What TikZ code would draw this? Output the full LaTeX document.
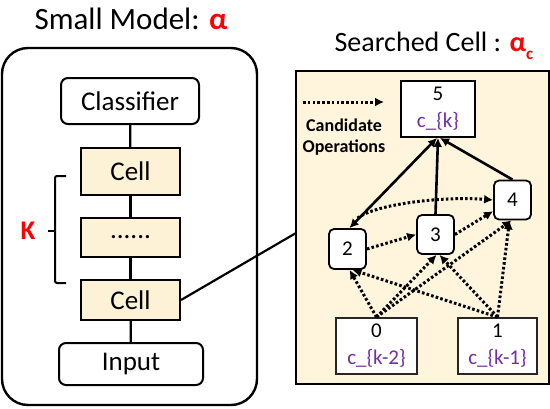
\documentclass[tikz,border=0pt]{standalone}
\usepackage{fontspec}
\setmainfont{Carlito}
\usetikzlibrary{arrows.meta,calc}
\definecolor{cream}{HTML}{FFF4DC}
\definecolor{cellfill}{HTML}{FDF2D5}
\definecolor{purp}{HTML}{7030A0}
\tikzset{
  fsz/.style={font=\fontsize{#1}{#1}\selectfont},
  blk/.style={draw=black, line width=2pt, inner sep=0pt, fsz=27},
  roundblk/.style={blk, rounded corners=7pt, fill=white},
  cellblk/.style={blk, fill=cellfill, minimum width=99pt},
  small/.style={draw=black, line width=1.8pt, fill=white, rounded corners=5pt, inner sep=0pt, minimum width=37pt, minimum height=39pt, fsz=21},
  io/.style={draw=black!85, line width=1.8pt, fill=white, inner sep=0pt, align=center, font=\fontsize{21}{27}\selectfont},
  solidarr/.style={line width=2.6pt, -{Latex[length=9pt,width=9pt]}},
  dotarr/.style={line width=3pt, dash pattern=on 2.6pt off 2.2pt, -{Latex[length=9pt,width=9pt]}},
  link/.style={line width=2.2pt}
}
\begin{document}
\begin{tikzpicture}[x=1pt,y=-1pt]
\useasboundingbox (0,0) rectangle (550,408);
% titles
\node[fsz=31] (t1) at (131,19) {Small Model: {\color{red}\bfseries α}};
\node[fsz=28] (t2) at (434,46) {Searched Cell : {\color{red}\bfseries α\raisebox{-0.3em}{\fontsize{17}{17}\selectfont c}}};
% left outer box
\draw[line width=2.4pt, rounded corners=26pt] (2,48) rectangle (257,405);
\node[roundblk, minimum width=138pt, minimum height=46pt] (cls) at (130,101) {Classifier};
\node[cellblk, minimum height=47pt] (c1) at (130.5,171.5) {Cell};
\node[cellblk, minimum height=39pt] (dots) at (130.5,237.5) {......};
\node[cellblk, minimum height=40pt] (c2) at (130.5,300) {Cell};
\node[roundblk, minimum width=144pt, minimum height=42pt] (inp) at (131,364) {Input};
\draw[link] (cls) -- (c1);
\draw[link] (c1) -- (dots);
\draw[link] (dots) -- (c2);
\draw[link] (c2) -- (inp);
% brace
\draw[line width=2pt, rounded corners=2pt] (66,176) -- (55,176) -- (55,283) -- (66,283);
\draw[line width=2pt] (48,231) -- (55,231);
\node[text=red, font=\bfseries\fontsize{27}{27}\selectfont] (K) at (28,231) {K};
% right box
\node[draw=black, line width=2pt, fill=cream, minimum width=253pt, minimum height=313pt, inner sep=0pt] (rb) at (422.5,227.5) {};
\coordinate (rbl) at (296,233);
\draw[link] (c2.east) -- (rbl);
% legend
\coordinate (lg1) at (303,102);
\coordinate (lg2) at (384,102);
\draw[dotarr] (lg1) -- (lg2);
\node[align=center, font=\bfseries\fontsize{18}{21}\selectfont] (leg) at (344,137) {Candidate\\Operations};
% nodes
\node[io, minimum width=74pt, minimum height=56pt, draw=black] (n5) at (438,109) {5\\{\color{purp}c\_\{k\}}};
\node[small] (n4) at (512.5,200) {4};
\node[small] (n3) at (435.5,234.5) {3};
\node[small, minimum height=40pt] (n2) at (347.5,249) {2};
\node[io, minimum width=81pt, minimum height=56pt] (n0) at (376.5,346) {0\\{\color{purp}c\_\{k-2\}}};
\node[io, minimum width=79pt, minimum height=56pt] (n1) at (497.5,346) {1\\{\color{purp}c\_\{k-1\}}};
% solid arrows
\draw[line width=2.6pt, {Latex[length=9pt,width=9pt]}-{Latex[length=9pt,width=9pt]}] ([xshift=2pt]n2.north) -- ([xshift=-1pt]n5.south);
\draw[solidarr] (n3.north) -- ([xshift=0pt]n5.south);
\draw[solidarr] (n4.north) -- ([xshift=2pt]n5.south);
% dotted arrows
\draw[dotarr] (n2.east) -- (n3.west);
\draw[dotarr] (n3.east) -- (n4.-150);
\draw[dotarr] ([xshift=10pt,yshift=10pt]n2.north) .. controls ($(n2.north)+(28,-24)$) and ($(n4.west)+(-50,-4)$) .. (n4.west);
\draw[dotarr] (n0.north) -- ([xshift=2pt]n2.south);
\draw[dotarr] (n0.north) -- ([xshift=1pt]n3.south);
\draw[dotarr] (n0.north) -- ([xshift=-1pt]n4.south);
\draw[dotarr] (n1.north) -- ([xshift=5pt]n2.south);
\draw[dotarr] (n1.north) -- ([xshift=4pt]n3.south);
\draw[dotarr] (n1.north) -- ([xshift=-3pt]n4.south);
\end{tikzpicture}
\end{document}
